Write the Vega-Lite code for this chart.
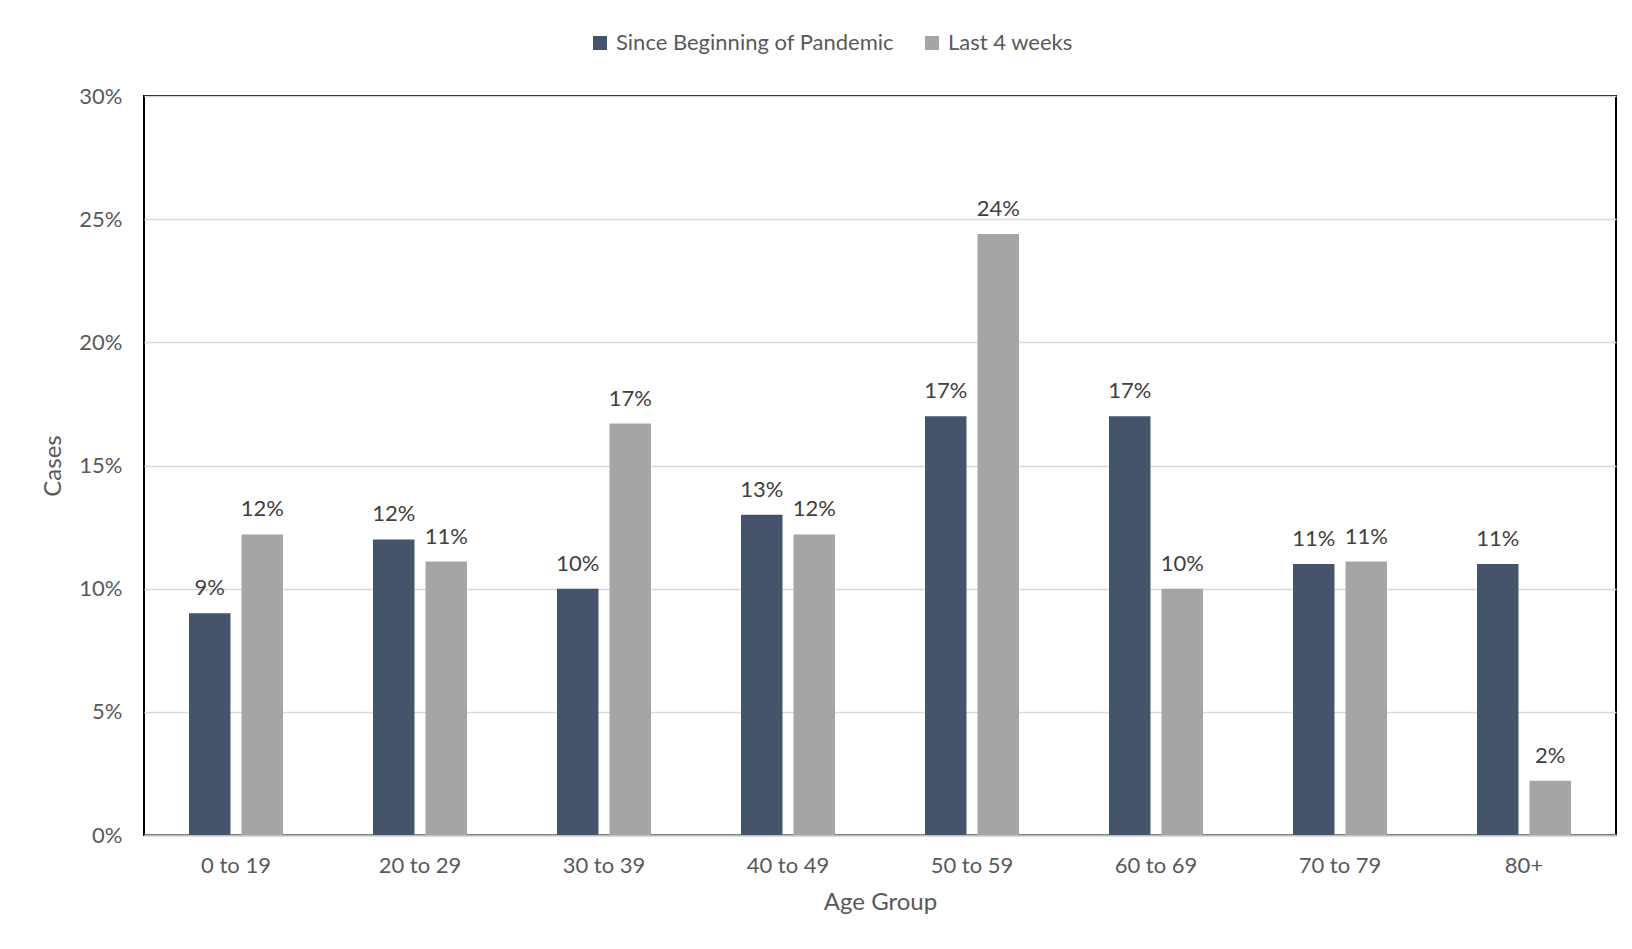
{
  "$schema": "https://vega.github.io/schema/vega-lite/v6.json",
  "width": 1472,
  "height": 739,
  "autosize": {"type": "none"},
  "padding": {"left": 144, "top": 96, "right": 16, "bottom": 114},
  "background": "#ffffff",
  "config": {
    "font": "Lato",
    "view": {"stroke": "#000000", "strokeWidth": 2},
    "axis": {"labelFont": "Lato", "titleFont": "Lato", "labelFontSize": 22, "titleFontSize": 24, "labelColor": "#595959", "titleColor": "#595959", "titleFontWeight": "normal"},
    "legend": {"labelFont": "Lato", "labelFontSize": 22, "labelColor": "#595959", "labelLimit": 500}
  },
  "data": {
    "values": [
      {"age": "0 to 19", "series": "Since Beginning of Pandemic", "value": 0.09},
      {"age": "0 to 19", "series": "Last 4 weeks", "value": 0.122},
      {"age": "20 to 29", "series": "Since Beginning of Pandemic", "value": 0.12},
      {"age": "20 to 29", "series": "Last 4 weeks", "value": 0.111},
      {"age": "30 to 39", "series": "Since Beginning of Pandemic", "value": 0.10},
      {"age": "30 to 39", "series": "Last 4 weeks", "value": 0.167},
      {"age": "40 to 49", "series": "Since Beginning of Pandemic", "value": 0.13},
      {"age": "40 to 49", "series": "Last 4 weeks", "value": 0.122},
      {"age": "50 to 59", "series": "Since Beginning of Pandemic", "value": 0.17},
      {"age": "50 to 59", "series": "Last 4 weeks", "value": 0.244},
      {"age": "60 to 69", "series": "Since Beginning of Pandemic", "value": 0.17},
      {"age": "60 to 69", "series": "Last 4 weeks", "value": 0.10},
      {"age": "70 to 79", "series": "Since Beginning of Pandemic", "value": 0.11},
      {"age": "70 to 79", "series": "Last 4 weeks", "value": 0.111},
      {"age": "80+", "series": "Since Beginning of Pandemic", "value": 0.11},
      {"age": "80+", "series": "Last 4 weeks", "value": 0.022}
    ]
  },
  "encoding": {
    "x": {
      "field": "age", "type": "nominal",
      "sort": ["0 to 19", "20 to 29", "30 to 39", "40 to 49", "50 to 59", "60 to 69", "70 to 79", "80+"],
      "scale": {"paddingInner": 0, "paddingOuter": 0},
      "axis": {"title": "Age Group", "labelAngle": 0, "ticks": false, "labelPadding": 20, "titlePadding": 14, "domainColor": "#bfbfbf", "domainWidth": 2}
    },
    "xOffset": {
      "field": "series", "type": "nominal",
      "sort": ["Since Beginning of Pandemic", "Last 4 weeks"],
      "scale": {"paddingInner": 0.21, "paddingOuter": 0.857}
    },
    "y": {
      "field": "value", "type": "quantitative",
      "scale": {"domain": [0, 0.3]},
      "axis": {"title": "Cases", "format": ".0%", "values": [0, 0.05, 0.1, 0.15, 0.2, 0.25, 0.3], "domain": false, "ticks": false, "labelPadding": 22, "gridColor": "#d9d9d9", "gridWidth": 1.5, "titlePadding": 13}
    }
  },
  "layer": [
    {
      "mark": {"type": "bar"},
      "encoding": {
        "color": {
          "field": "series", "type": "nominal",
          "scale": {"domain": ["Since Beginning of Pandemic", "Last 4 weeks"], "range": ["#44546a", "#a5a5a5"]},
          "legend": {"title": null, "orient": "none", "legendX": 445, "legendY": -64, "direction": "horizontal", "symbolType": "square", "symbolSize": 196, "symbolStrokeWidth": 0, "labelOffset": 5, "columnPadding": 27}
        }
      }
    },
    {
      "mark": {"type": "text", "baseline": "alphabetic", "dy": -18, "fontSize": 22, "color": "#404040", "font": "Lato"},
      "encoding": {
        "text": {"field": "value", "type": "quantitative", "format": ".0%"}
      }
    }
  ]
}
